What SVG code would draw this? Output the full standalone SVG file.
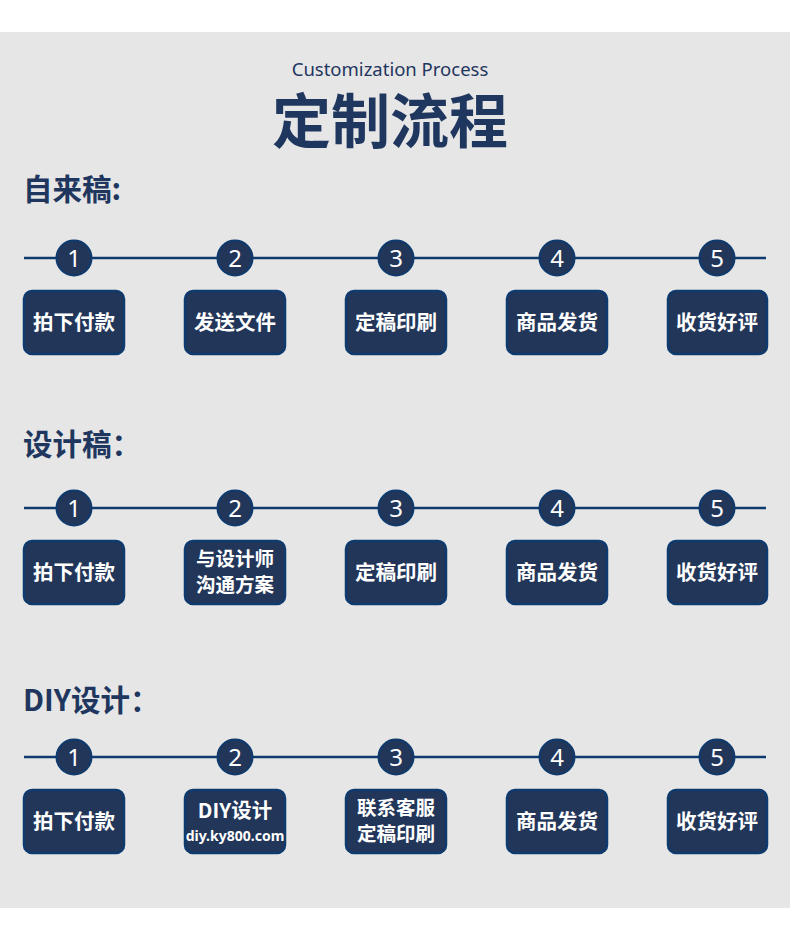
<svg xmlns="http://www.w3.org/2000/svg" width="790" height="936" viewBox="0 0 790 936">
<style>
.bg{fill:#e6e6e6}
.ln{stroke:#0e3a6e;stroke-width:2.5;fill:none}
.cir{fill:#223659;stroke:#0e3a6e;stroke-width:2}
.num{fill:#ffffff;font-family:"Noto Sans","Liberation Sans",sans-serif;font-size:24px;text-anchor:middle}
.box{fill:#223659;stroke:#0e3a6e;stroke-width:2.5}
.bt{fill:#ffffff;font-family:"Noto Sans CJK SC","Noto Sans",sans-serif;font-size:20.5px;font-weight:bold;text-anchor:middle}
.bt2{fill:#ffffff;font-family:"Noto Sans CJK SC","Noto Sans",sans-serif;font-size:19.5px;font-weight:bold;text-anchor:middle}
.url{fill:#ffffff;font-family:"Noto Sans","Liberation Sans",sans-serif;font-size:14px;font-weight:bold;text-anchor:middle}
.h{fill:#1f365e;font-family:"Noto Sans CJK SC","Noto Sans",sans-serif;font-weight:bold;font-size:29.5px}
</style>
<rect x="0" y="0" width="790" height="936" fill="#ffffff"/>
<rect class="bg" x="0" y="32" width="790" height="876"/>
<g id="title">
<text x="390" y="76" fill="#1f365e" font-family="'Noto Sans','Liberation Sans',sans-serif" font-size="18.5" text-anchor="middle">Customization Process</text>
<text x="390" y="143" fill="#1f365e" font-family="'Noto Sans CJK SC',sans-serif" font-size="59" font-weight="bold" text-anchor="middle">定制流程</text>
</g>
<g id="connectors">
<line class="ln" x1="24" y1="258" x2="766" y2="258"/>
<line class="ln" x1="24" y1="508" x2="766" y2="508"/>
<line class="ln" x1="24" y1="757" x2="766" y2="757"/>
</g>
<g id="row1">
<text class="h" x="23" y="200">自来稿:</text>
<g id="r1s1"><circle class="cir" cx="74" cy="258" r="17.5"/><text class="num" x="74" y="267">1</text><rect class="box" x="24" y="291" width="100" height="63" rx="8"/><text class="bt" x="74" y="330">拍下付款</text></g>
<g id="r1s2"><circle class="cir" cx="235" cy="258" r="17.5"/><text class="num" x="235" y="267">2</text><rect class="box" x="185" y="291" width="100" height="63" rx="8"/><text class="bt" x="235" y="330">发送文件</text></g>
<g id="r1s3"><circle class="cir" cx="396" cy="258" r="17.5"/><text class="num" x="396" y="267">3</text><rect class="box" x="346" y="291" width="100" height="63" rx="8"/><text class="bt" x="396" y="330">定稿印刷</text></g>
<g id="r1s4"><circle class="cir" cx="557" cy="258" r="17.5"/><text class="num" x="557" y="267">4</text><rect class="box" x="507" y="291" width="100" height="63" rx="8"/><text class="bt" x="557" y="330">商品发货</text></g>
<g id="r1s5"><circle class="cir" cx="717" cy="258" r="17.5"/><text class="num" x="717" y="267">5</text><rect class="box" x="668" y="291" width="99" height="63" rx="8"/><text class="bt" x="717" y="330">收货好评</text></g>
</g>
<g id="row2">
<text class="h" x="23" y="455">设计稿：</text>
<g id="r2s1"><circle class="cir" cx="74" cy="508" r="17.5"/><text class="num" x="74" y="517">1</text><rect class="box" x="24" y="541" width="100" height="63" rx="8"/><text class="bt" x="74" y="580">拍下付款</text></g>
<g id="r2s2"><circle class="cir" cx="235" cy="508" r="17.5"/><text class="num" x="235" y="517">2</text><rect class="box" x="185" y="541" width="100" height="63" rx="8"/><text class="bt2" x="235" y="566">与设计师</text><text class="bt2" x="235" y="592">沟通方案</text></g>
<g id="r2s3"><circle class="cir" cx="396" cy="508" r="17.5"/><text class="num" x="396" y="517">3</text><rect class="box" x="346" y="541" width="100" height="63" rx="8"/><text class="bt" x="396" y="580">定稿印刷</text></g>
<g id="r2s4"><circle class="cir" cx="557" cy="508" r="17.5"/><text class="num" x="557" y="517">4</text><rect class="box" x="507" y="541" width="100" height="63" rx="8"/><text class="bt" x="557" y="580">商品发货</text></g>
<g id="r2s5"><circle class="cir" cx="717" cy="508" r="17.5"/><text class="num" x="717" y="517">5</text><rect class="box" x="668" y="541" width="99" height="63" rx="8"/><text class="bt" x="717" y="580">收货好评</text></g>
</g>
<g id="row3">
<text class="h" x="23" y="711">DIY设计：</text>
<g id="r3s1"><circle class="cir" cx="74" cy="757" r="17.5"/><text class="num" x="74" y="766">1</text><rect class="box" x="24" y="790" width="100" height="63" rx="8"/><text class="bt" x="74" y="829">拍下付款</text></g>
<g id="r3s2"><circle class="cir" cx="235" cy="757" r="17.5"/><text class="num" x="235" y="766">2</text><rect class="box" x="185" y="790" width="100" height="63" rx="8"/><text class="bt" x="235" y="818">DIY设计</text><text class="url" x="235" y="841">diy.ky800.com</text></g>
<g id="r3s3"><circle class="cir" cx="396" cy="757" r="17.5"/><text class="num" x="396" y="766">3</text><rect class="box" x="346" y="790" width="100" height="63" rx="8"/><text class="bt2" x="396" y="815">联系客服</text><text class="bt2" x="396" y="841">定稿印刷</text></g>
<g id="r3s4"><circle class="cir" cx="557" cy="757" r="17.5"/><text class="num" x="557" y="766">4</text><rect class="box" x="507" y="790" width="100" height="63" rx="8"/><text class="bt" x="557" y="829">商品发货</text></g>
<g id="r3s5"><circle class="cir" cx="717" cy="757" r="17.5"/><text class="num" x="717" y="766">5</text><rect class="box" x="668" y="790" width="99" height="63" rx="8"/><text class="bt" x="717" y="829">收货好评</text></g>
</g>
</svg>
